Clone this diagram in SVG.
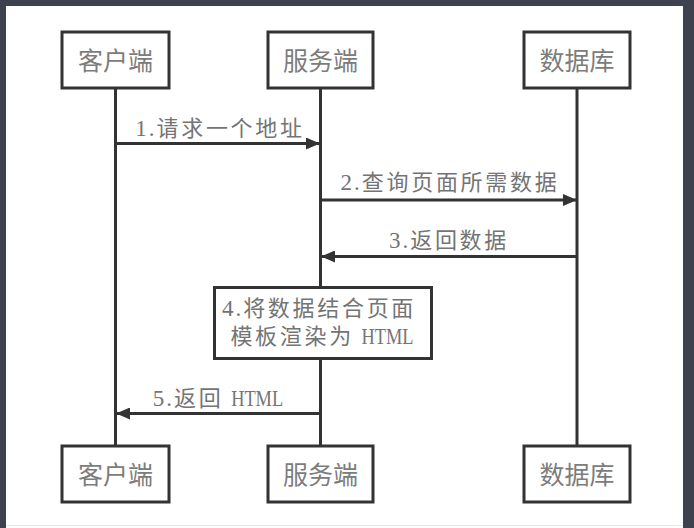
<svg xmlns="http://www.w3.org/2000/svg" width="694" height="528" viewBox="0 0 694 528">
  <style>
    .frame { fill: #3d424e; }
    .paper { fill: #ffffff; }
    .box { fill: #ffffff; stroke: #333333; stroke-width: 3; }
    .life { stroke: #333333; stroke-width: 3; fill: none; }
    .msg { stroke: #333333; stroke-width: 3; fill: none; marker-end: url(#ah); }
    .name { font-family: "Noto Sans CJK SC", "Liberation Sans", sans-serif; font-size: 25px; fill: #7c7c7c; text-anchor: middle; }
    .lbl { font-family: "Noto Sans CJK SC", "Liberation Sans", sans-serif; font-size: 22px; fill: #747474; text-anchor: middle; letter-spacing: 2.7px; }
    .a { font-family: "Liberation Serif", serif; font-size: 23px; letter-spacing: 2px; }
    .h { font-family: "Liberation Serif", serif; font-size: 23px; letter-spacing: 0px; }
  </style>
  <defs>
    <marker id="ah" viewBox="0 0 14 12" refX="14" refY="6" markerWidth="14" markerHeight="12" markerUnits="userSpaceOnUse" orient="auto">
      <path d="M0,0 L14,6 L0,12 z" fill="#333333"/>
    </marker>
  </defs>

  <rect class="frame" x="0" y="0" width="694" height="528"/>
  <rect class="paper" x="6" y="6" width="677" height="522"/>
  <line x1="6" y1="525.5" x2="683" y2="525.5" stroke="#e8e8e8" stroke-width="1"/>

  <g id="lifelines">
    <line class="life" x1="115.5" y1="88" x2="115.5" y2="445"/>
    <line class="life" x1="320.5" y1="88" x2="320.5" y2="445"/>
    <line class="life" x1="577" y1="88" x2="577" y2="445"/>
  </g>

  <g id="client-top">
    <rect class="box" x="62" y="32" width="107" height="56"/>
    <text class="name" x="115.5" y="69.5">客户端</text>
  </g>
  <g id="server-top">
    <rect class="box" x="268" y="32" width="105" height="56"/>
    <text class="name" x="320.5" y="69.5">服务端</text>
  </g>
  <g id="db-top">
    <rect class="box" x="524" y="32" width="106" height="56"/>
    <text class="name" x="577" y="69.5">数据库</text>
  </g>

  <g id="client-bottom">
    <rect class="box" x="62" y="446" width="107" height="56"/>
    <text class="name" x="115.5" y="483.5">客户端</text>
  </g>
  <g id="server-bottom">
    <rect class="box" x="268" y="446" width="105" height="56"/>
    <text class="name" x="320.5" y="483.5">服务端</text>
  </g>
  <g id="db-bottom">
    <rect class="box" x="524" y="446" width="106" height="56"/>
    <text class="name" x="577" y="483.5">数据库</text>
  </g>

  <g id="step4">
    <rect class="box" x="214.5" y="287.5" width="217" height="71"/>
    <text class="lbl" x="319" y="315.5"><tspan class="a">4.</tspan>将数据结合页面</text>
    <text class="lbl" x="322" y="344">模板渲染为 <tspan class="h" textLength="52" lengthAdjust="spacingAndGlyphs">HTML</tspan></text>
  </g>

  <g id="connectors">
    <line class="msg" x1="115.5" y1="143.5" x2="320" y2="143.5"/>
    <text class="lbl" x="220" y="135.5"><tspan class="a">1.</tspan>请求一个地址</text>
    <line class="msg" x1="320.5" y1="200" x2="577" y2="200"/>
    <text class="lbl" x="450" y="189.5"><tspan class="a">2.</tspan>查询页面所需数据</text>
    <line class="msg" x1="577" y1="256.5" x2="321" y2="256.5"/>
    <text class="lbl" x="449" y="248"><tspan class="a">3.</tspan>返回数据</text>
    <line class="msg" x1="320.5" y1="413.5" x2="116" y2="413.5"/>
    <text class="lbl" x="218" y="405.5"><tspan class="a">5.</tspan>返回 <tspan class="h" textLength="52" lengthAdjust="spacingAndGlyphs">HTML</tspan></text>
  </g>
</svg>
